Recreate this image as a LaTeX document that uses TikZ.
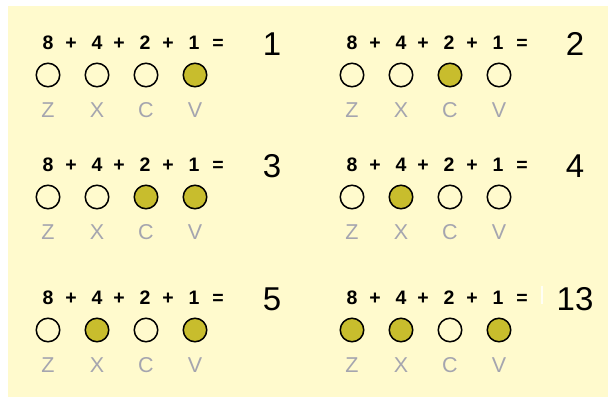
\documentclass[tikz,border=0pt]{standalone}
\usepackage{fontspec}
\setmainfont{Liberation Sans}
\definecolor{bg}{RGB}{255,250,205}
\definecolor{dotfill}{RGB}{200,189,45}
\definecolor{lettergray}{RGB}{165,165,175}
\newcommand\bitpanel[6]{%
  \foreach \t/\dx [count=\i] in {8/0,+/23,4/49,+/71,2/97,+/120,1/146,=/170}
    \node[eqtok] (#1e\i) at ({#2+\dx},{#3-33}) {\t};
  \foreach \b [count=\i] in {#4} {%
    \ifnum\b=1 \def\fc{dotfill}\else\def\fc{bg}\fi
    \node[bitcirc, fill=\fc] (#1c\i) at ({#2+(\i-1)*49},#3) {};
  }
  \foreach \l [count=\i] in {Z,X,C,V}
    \node[keylabel] (#1k\i) at ({#2+(\i-1)*49},{#3+35}) {\l};
  \node[resnum] (#1r) at (#6,{#3-31}) {#5};
}
\begin{document}
\begin{tikzpicture}[x=1pt,y=-1pt,
  eqtok/.style={inner sep=0pt, text height=14pt, text depth=0pt,
    font=\fontsize{19.5}{19.5}\bfseries\selectfont},
  keylabel/.style={inner sep=0pt, text height=15.5pt, text depth=0pt,
    text=lettergray, font=\fontsize{21.5}{21.5}\selectfont},
  resnum/.style={inner sep=0pt, text height=23.5pt, text depth=0pt,
    font=\fontsize{33}{33}\selectfont},
  bitcirc/.style={circle, draw=black, line width=1.5pt, minimum size=23.5pt, inner sep=0pt}]
\useasboundingbox (0,0) rectangle (608,397);
\fill[bg] (8,6) rectangle (608,397);
\bitpanel{a}{48}{75}{0,0,0,1}{1}{272}
\bitpanel{b}{352}{75}{0,0,1,0}{2}{575}
\bitpanel{c}{48}{197}{0,0,1,1}{3}{272}
\bitpanel{d}{352}{197}{0,1,0,0}{4}{575}
\bitpanel{e}{48}{330}{0,1,0,1}{5}{272}
\bitpanel{f}{352}{330}{1,1,0,1}{13}{575}
\fill[white, opacity=0.8] (540.5,286) rectangle (542.5,304);
\end{tikzpicture}
\end{document}
